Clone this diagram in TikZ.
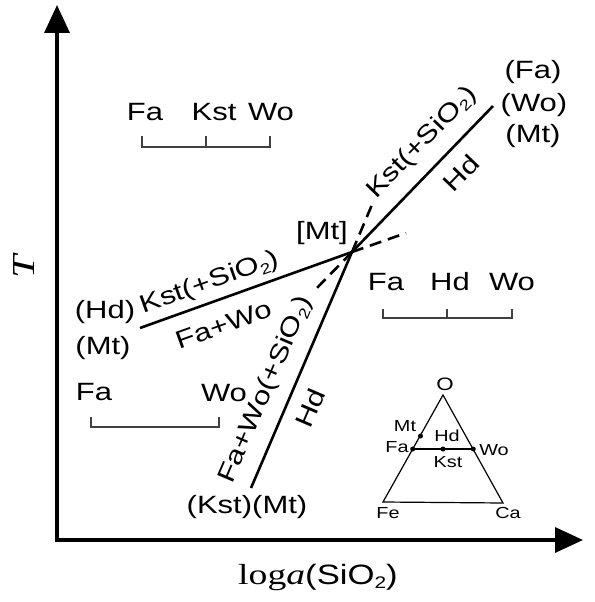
\documentclass[tikz,border=0pt]{standalone}
\usepackage{fontspec}
\usepackage{graphicx}
\usetikzlibrary{arrows.meta}
\newfontfamily\lab[FakeStretch=1.24]{Liberation Sans}
\newfontfamily\serw[FakeStretch=1.3]{Liberation Serif}
\newcommand\stwo{\raisebox{-0.3ex}{\scalebox{0.6}{2}}}
\tikzset{
  lbl/.style={font=\lab\fontsize{25}{29}\selectfont, inner sep=0pt},
  trilbl/.style={font=\lab\fontsize{16}{19}\selectfont, inner sep=0pt},
  phase/.style={line width=2.6pt},
  ext/.style={line width=2.6pt, dash pattern=on 12pt off 7pt},
  brk/.style={line width=1.2pt, draw=black!75},
  tri/.style={line width=1.2pt},
  axisline/.style={line width=3.5pt, line join=miter,
    {Triangle[length=28pt,width=25pt]}-{Triangle[length=28pt,width=25pt]}},
  pt/.style={circle, fill=black, inner sep=0pt, minimum size=5pt},
}
\begin{document}
\begin{tikzpicture}[x=1pt,y=-1pt]
\useasboundingbox (0,0) rectangle (594,602);
% axes
\coordinate (O) at (57,540);
\coordinate (Ytip) at (57,5);
\coordinate (Xtip) at (583,540);
\draw[axisline] (Ytip) -- (O) -- (Xtip);
\node[font=\serw\itshape\fontsize{32}{36}\selectfont, rotate=90, inner sep=0pt] (T) at (24,267) {T};
\node[inner sep=0pt] (xl) at (318,577) {{\serw\fontsize{29}{32}\selectfont log\textit{a}}{\lab\fontsize{28}{32}\selectfont(SiO\stwo)}};
% phase lines
\coordinate (I) at (352,252);
\coordinate (A1) at (493,106);
\coordinate (A2) at (140,328);
\coordinate (A3) at (251,488);
\coordinate (E1) at (314,291);
\coordinate (E2) at (406,233);
\coordinate (E3) at (374,200);
\draw[phase] (I) -- (A1);
\draw[phase] (I) -- (A2);
\draw[phase] (I) -- (A3);
\draw[ext] (I) -- (E1);
\draw[ext] (I) -- (E2);
\draw[ext] (I) -- (E3);
% labels on lines
\node[lbl, rotate=46] (l1a) at (422,143) {Kst(+SiO\stwo)};
\node[lbl, rotate=46] (l1b) at (461,173) {Hd};
\node[lbl, rotate=19.7] (l2a) at (210,283) {Kst(+SiO\stwo)};
\node[lbl, rotate=19.7] (l2b) at (224,325) {Fa+Wo};
\node[lbl, rotate=66.8] (l3a) at (266,390) {Fa+Wo(+SiO\stwo)};
\node[lbl, rotate=66.8] (l3b) at (310,408) {Hd};
% end labels
\node[lbl] (e1) at (533,72) {(Fa)};
\node[lbl] (e2) at (534,105) {(Wo)};
\node[lbl] (e3) at (533,136) {(Mt)};
\node[lbl] (mt) at (322,233) {[Mt]};
\node[lbl] (h1) at (105,312) {(Hd)};
\node[lbl] (h2) at (103,348) {(Mt)};
\node[lbl] (km) at (247,507) {(Kst)(Mt)};
% bracket top-left
\node[lbl] (b1a) at (145,112) {Fa};
\node[lbl] (b1b) at (214,112) {Kst};
\node[lbl] (b1c) at (271,112) {Wo};
\draw[brk] (142,136) -- (142,147) -- (270,147) -- (270,136);
\draw[brk] (206,147) -- (206,136);
% bracket right
\node[lbl] (b2a) at (386,282) {Fa};
\node[lbl] (b2b) at (450,282) {Hd};
\node[lbl] (b2c) at (512,282) {Wo};
\draw[brk] (383,309) -- (383,318) -- (512,318) -- (512,309);
\draw[brk] (447,318) -- (447,309);
% bracket lower-left
\node[lbl] (b3a) at (94,392) {Fa};
\node[lbl] (b3b) at (224,393) {Wo};
\draw[brk] (91,417) -- (91,427) -- (219,427) -- (219,417);
% triangle inset
\coordinate (tO) at (443,395);
\coordinate (tFe) at (383,502);
\coordinate (tCa) at (503,503);
\draw[tri] (tO) -- (tFe) -- (tCa) -- cycle;
\node[pt] (pFa) at (412.7,449) {};
\node[pt] (pWo) at (473.3,449) {};
\node[pt] (pK) at (443,449) {};
\node[pt] (pMt) at (420.5,436) {};
\draw[line width=2.2pt] (pFa.center) -- (pWo.center);
\node[trilbl, font=\lab\fontsize{18}{21}\selectfont] (nO) at (445,384) {O};
\node[trilbl] (nMt) at (405,426) {Mt};
\node[trilbl] (nFa) at (397,447) {Fa};
\node[trilbl] (nHd) at (447,436) {Hd};
\node[trilbl] (nK) at (448,462) {Kst};
\node[trilbl] (nWo) at (494,450) {Wo};
\node[trilbl] (nFe) at (388,513) {Fe};
\node[trilbl] (nCa) at (508,513) {Ca};
\end{tikzpicture}
\end{document}
